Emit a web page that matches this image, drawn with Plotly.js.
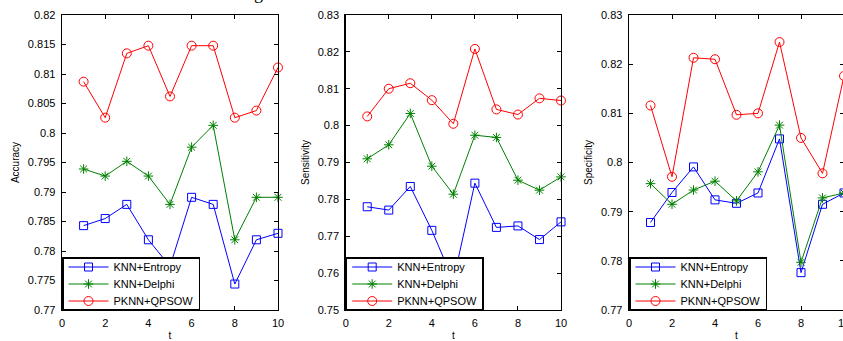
<!DOCTYPE html>
<html>
<head>
<meta charset="utf-8">
<script src="https://cdn.plot.ly/plotly-3.0.1.min.js"></script>
<style>
html,body{margin:0;padding:0;overflow:hidden;background:#fff;}
#chart{width:846px;height:341px;}
</style>
</head>
<body>
<div id="chart"></div>
<script>
// ---- data ----
const t = [1, 2, 3, 4, 5, 6, 7, 8, 9, 10];
const seriesNames = ['KNN+Entropy', 'KNN+Delphi', 'PKNN+QPSOW'];

const accEntropy = [0.7843, 0.7855, 0.7879, 0.7819, 0.7774, 0.7891, 0.7879, 0.7744, 0.7819, 0.7830];
const accDelphi  = [0.7939, 0.7927, 0.7952, 0.7927, 0.7879, 0.7976, 0.8013, 0.7819, 0.7891, 0.7891];
const accQpsow   = [0.8087, 0.8026, 0.8135, 0.8148, 0.8062, 0.8148, 0.8148, 0.8026, 0.8038, 0.8111];

const senEntropy = [0.7780, 0.7771, 0.7835, 0.7716, 0.7579, 0.7844, 0.7724, 0.7728, 0.7691, 0.7739];
const senDelphi  = [0.7910, 0.7948, 0.8033, 0.7890, 0.7814, 0.7974, 0.7968, 0.7852, 0.7825, 0.7861];
const senQpsow   = [0.8025, 0.8100, 0.8115, 0.8069, 0.8005, 0.8208, 0.8044, 0.8030, 0.8074, 0.8068];

const speEntropy = [0.7878, 0.7939, 0.7991, 0.7924, 0.7917, 0.7938, 0.8048, 0.7776, 0.7915, 0.7938];
const speDelphi  = [0.7957, 0.7915, 0.7944, 0.7962, 0.7922, 0.7981, 0.8076, 0.7797, 0.7928, 0.7938];
const speQpsow   = [0.8116, 0.7971, 0.8213, 0.8210, 0.8097, 0.8100, 0.8245, 0.8050, 0.7978, 0.8176];

const yTitles = ['Accuracy', 'Sensitivity', 'Specificity'];
const yRanges = [[0.77, 0.82], [0.75, 0.83], [0.77, 0.83]];
const yDticks = [0.005, 0.01, 0.01];

// ---- layout helpers ----
const W = 846, H = 341;
const colors = ['#0000ff', '#008000', '#ff0000'];
const symbols = ['square-open', 'asterisk-open', 'circle-open'];
const sizes = [8, 8, 9];
const xPix = [[62, 278], [345.7, 561], [629, 844]];
const yDom = [(H - 310) / H, (H - 15) / H];
const font = 'Liberation Sans, Arial, sans-serif';

const panels = [
  [accEntropy, accDelphi, accQpsow],
  [senEntropy, senDelphi, senQpsow],
  [speEntropy, speDelphi, speQpsow]
];

const traces = [];
panels.forEach((p, i) => {
  const ax = i === 0 ? '' : String(i + 1);
  p.forEach((vals, s) => {
    traces.push({
      x: t, y: vals, type: 'scatter', mode: 'lines+markers',
      name: seriesNames[s],
      xaxis: 'x' + ax, yaxis: 'y' + ax,
      legend: 'legend' + ax,
      cliponaxis: false,
      line: {color: colors[s], width: 1},
      marker: {symbol: symbols[s], size: sizes[s], color: colors[s], line: {color: colors[s], width: 1}}
    });
  });
});

const layout = {
  width: W, height: H,
  margin: {l: 0, r: 0, t: 0, b: 0},
  paper_bgcolor: '#fff', plot_bgcolor: '#fff',
  font: {family: font, color: '#000'},
  annotations: [{
    text: 'g', xref: 'paper', yref: 'paper', x: 258 / W, y: 1 - 5 / H,
    xanchor: 'center', yanchor: 'bottom', showarrow: false,
    font: {family: 'Liberation Serif, Times New Roman, serif', size: 18, color: '#000'}
  }]
};

for (let i = 0; i < 3; i++) {
  const ax = i === 0 ? '' : String(i + 1);
  const common = {
    showline: true, linecolor: '#000', linewidth: 1.4, mirror: 'ticks',
    ticks: 'inside', ticklen: 4, tickwidth: 1, tickcolor: '#000',
    showgrid: false, zeroline: false,
    tickfont: {family: font, size: 11, color: '#000'}
  };
  layout['xaxis' + ax] = Object.assign({}, common, {
    domain: [xPix[i][0] / W, xPix[i][1] / W],
    anchor: 'y' + ax, range: [0, 10], dtick: 2, tick0: 0,
    ticklabelstandoff: 2, ticklabeloverflow: 'allow',
    title: {text: 't', font: {family: font, size: 10, color: '#000'}, standoff: 8}
  });
  layout['yaxis' + ax] = Object.assign({}, common, {
    domain: yDom, anchor: 'x' + ax, range: yRanges[i], dtick: yDticks[i], tick0: 0,
    ticklabelstandoff: 3,
    title: {text: yTitles[i], font: {family: font, size: 10, color: '#000'}, standoff: 6}
  });
  layout['legend' + ax] = {
    x: xPix[i][0] / W, y: yDom[0], xanchor: 'left', yanchor: 'bottom',
    xref: 'paper', yref: 'paper',
    bgcolor: '#fff', bordercolor: '#000', borderwidth: 1.5,
    font: {family: font, size: 11, color: '#000'},
    traceorder: 'normal', itemwidth: 40
  };
}

function tightenLegends() {
  const targetH = 53, rowH = 17;
  document.querySelectorAll('#chart g.infolayer > g').forEach(g => {
    const cls = (g.getAttribute('class') || '').trim();
    if (!/^legend\d*$/.test(cls)) return;
    const bg = g.querySelector('rect.bg');
    const items = g.querySelectorAll('g.traces');
    if (!bg || !items.length) return;
    const bw = parseFloat(bg.style.strokeWidth || bg.getAttribute('stroke-width') || '1.5') || 1.5;
    const oldH = parseFloat(bg.getAttribute('height'));
    const newH = targetH - bw;
    const delta = oldH - newH;
    if (!(delta > 0)) return;
    const parse = s => {
      const m = (s || '').match(/translate\(\s*([-\d.e]+)[ ,]+([-\d.e]+)\s*\)/);
      return m ? [parseFloat(m[1]), parseFloat(m[2])] : [0, 0];
    };
    const first = parse(items[0].getAttribute('transform'));
    items.forEach((it, k) => {
      const p = parse(it.getAttribute('transform'));
      it.setAttribute('transform', 'translate(' + p[0] + ',' + (first[1] - 6 + rowH * k) + ')');
    });
    bg.setAttribute('height', newH);
    const gp = parse(g.getAttribute('transform'));
    g.setAttribute('transform', 'translate(' + gp[0] + ',' + (gp[1] + delta) + ')');
  });
}

Plotly.newPlot('chart', traces, layout, {displayModeBar: false, staticPlot: true}).then(tightenLegends);
</script>
</body>
</html>
